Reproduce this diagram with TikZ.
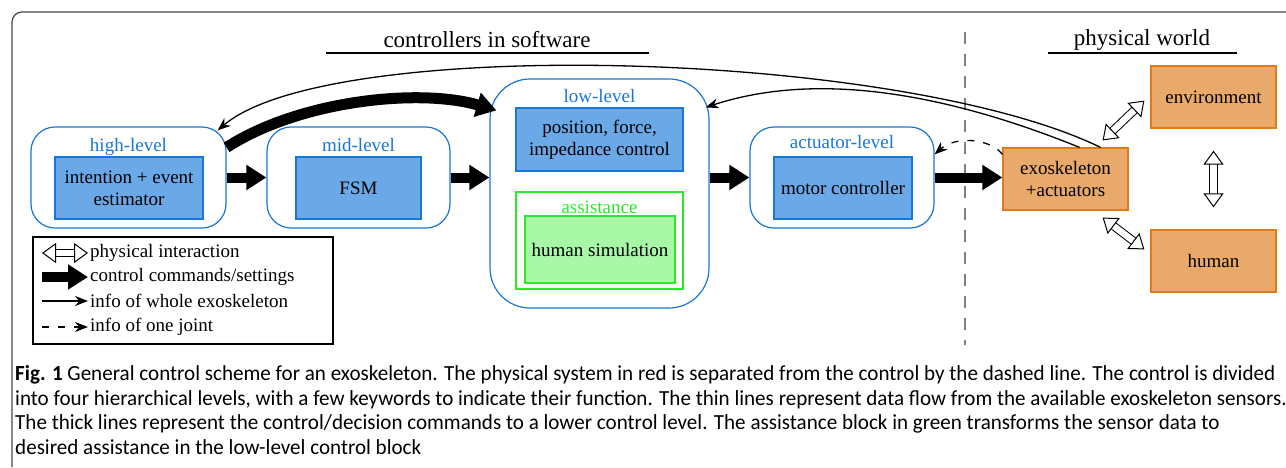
\documentclass[tikz,border=0pt]{standalone}
\usepackage{fontspec}
\setmainfont{Liberation Serif}
\newfontfamily\capfont[FakeStretch=0.98]{Carlito}
\usetikzlibrary{calc,arrows.meta}

\definecolor{lvlblue}{RGB}{24,118,214}
\definecolor{boxblue}{RGB}{106,168,232}
\definecolor{asgreen}{RGB}{40,235,40}
\definecolor{simgreen}{RGB}{168,248,168}
\definecolor{physfill}{RGB}{233,169,106}
\definecolor{physdraw}{RGB}{224,124,24}
\definecolor{framegray}{RGB}{70,70,70}

\begin{document}
\begin{tikzpicture}[x=1pt,y=-1pt,
    every node/.style={font=\fontsize{19}{22}\selectfont},
    lvl/.style={draw=lvlblue, line width=1.2, rounded corners=24, inner sep=0, minimum height=101},
    lvllabel/.style={anchor=north, text=lvlblue, inner sep=11.5},
    inbox/.style={draw=lvlblue, fill=boxblue, line width=1.2, minimum height=62, align=center},
    phys/.style={draw=physdraw, fill=physfill, line width=1.2, minimum width=125, minimum height=62, align=center},
    cmd/.style={line width=10, -{Triangle[length=20pt,width=24pt]}},
    info/.style={line width=1.3, -{Stealth[length=13pt,width=10pt]}},
    joint/.style={info, dash pattern=on 7pt off 9pt},
    inter/.style={double=white, double distance=6.5pt, line width=1,
        {Triangle[open,length=14pt,width=20pt]}-{Triangle[open,length=14pt,width=20pt]}}
    ]
    \useasboundingbox (0,0) rectangle (1286,467);

    % frame
    \draw[framegray, line width=1.2, rounded corners=10] (12,467) -- (12,12) -- (1286,12);

    % titles
    \node[font=\fontsize{23}{26}\selectfont] (tsoft) at (487,40) {controllers in software};
    \draw[line width=1.2] (326,53) -- (649,53);
    \node[font=\fontsize{23}{26}\selectfont] (tphys) at (1142,40) {physical world};
    \draw[line width=1.2] (1048,53) -- (1237,53);
    \draw[gray, line width=2, dash pattern=on 12pt off 10pt] (965,32) -- (965,345);

    % control levels
    \node[lvl, minimum width=195, label={[lvllabel]north:high-level}] (hl) at (128.5,177.5) {};
    \node[inbox, minimum width=148] (est) at (129,188) {intention + event\\estimator};
    \node[lvl, minimum width=183, label={[lvllabel]north:mid-level}] (ml) at (358.5,177.5) {};
    \node[inbox, minimum width=125] (fsm) at (358.5,188) {FSM};
    \node[lvl, rounded corners=40, minimum width=219, minimum height=229, label={[lvllabel, inner sep=10.5]north:low-level}] (ll) at (599.5,193.5) {};
    \node[inbox, minimum width=167, minimum height=63] (pfi) at (599.5,139.5) {position, force,\\impedance control};
    \node[draw=asgreen, line width=1.2, minimum width=167, minimum height=97, inner sep=0,
        label={[anchor=north, text=asgreen, inner sep=9.5]north:assistance}] (as) at (599.5,240.5) {};
    \node[draw=asgreen, fill=simgreen, line width=1.2, minimum width=150, minimum height=67] (hsim) at (600,249.5) {human simulation};
    \node[lvl, minimum width=184, label={[lvllabel, inner sep=9]north:actuator-level}] (al) at (842,177.5) {};
    \node[inbox, minimum width=138] (mot) at (843,188) {motor controller};

    % physical world
    \node[phys] (exo) at (1065.5,179) {exoskeleton\\+actuators};
    \node[phys] (env) at (1213.5,97) {environment};
    \node[phys] (hum) at (1213.5,261) {human};

    % commands
    \draw[cmd] (hl.east) -- (ml.west);
    \draw[cmd] (ml.east) -- (ml.east -| ll.west);
    \draw[cmd] (ll.east |- al.west) -- (al.west);
    \draw[cmd] (al.east) -- (al.east -| exo.west);
    \draw[cmd, line width=11] ([yshift=-21pt]hl.north east) .. controls (300,100) and (420,88) .. ([xshift=7pt,yshift=-32pt]ll.north west);

    % sensor info
    \draw[info] ([xshift=-28pt]exo.north east) .. controls (900,50) and (330,35) .. ([xshift=-9pt,yshift=-4pt]hl.north east);
    \draw[info] ([xshift=-49pt]exo.north east) .. controls (950,95) and (820,70) .. ([xshift=-4pt,yshift=-29pt]ll.north east);
    \draw[joint] ([yshift=-7pt]exo.north west) .. controls (990,138) and (955,136) .. ([yshift=-28pt]al.north east);

    % interaction
    \draw[inter] ($(exo.north east)+(-26,-7)$) -- ($(env.south west)+(-6,-28)$);
    \draw[inter, shorten <=22pt, shorten >=22pt] (env) -- (hum);
    \draw[inter] ($(exo.south east)+(-26,7)$) -- ($(hum.north west)+(-6,20)$);

    % legend
    \node[draw, line width=1.2, minimum width=300, minimum height=107] (leg) at (183,290.5) {};
    \foreach \y/\s/\t in {253/inter/physical interaction,
        277/cmd/control commands\slash settings,
        301/info/info of whole exoskeleton,
        327/joint/info of one joint}{
        \coordinate (l\y) at (42,\y);
        \node[anchor=west, inner sep=2] (t\y) at (88,\y) {\t};
        \draw[\s] (l\y) -- (t\y.west);
    }

    % caption
    \foreach \y/\t in {380.5/{\textbf{Fig. 1} General control scheme for an exoskeleton. The physical system in red is separated from the control by the dashed line. The control is divided},
        405/{into four hierarchical levels, with a few keywords to indicate their function. The thin lines represent data flow from the available exoskeleton sensors.},
        429.5/{The thick lines represent the control/decision commands to a lower control level. The assistance block in green transforms the sensor data to},
        454/{desired assistance in the low-level control block}}{
        \node[anchor=base west, inner sep=0, font=\capfont\fontsize{21.5}{24}\selectfont] (c\y) at (15,\y) {\t};
    }
\end{tikzpicture}
\end{document}
